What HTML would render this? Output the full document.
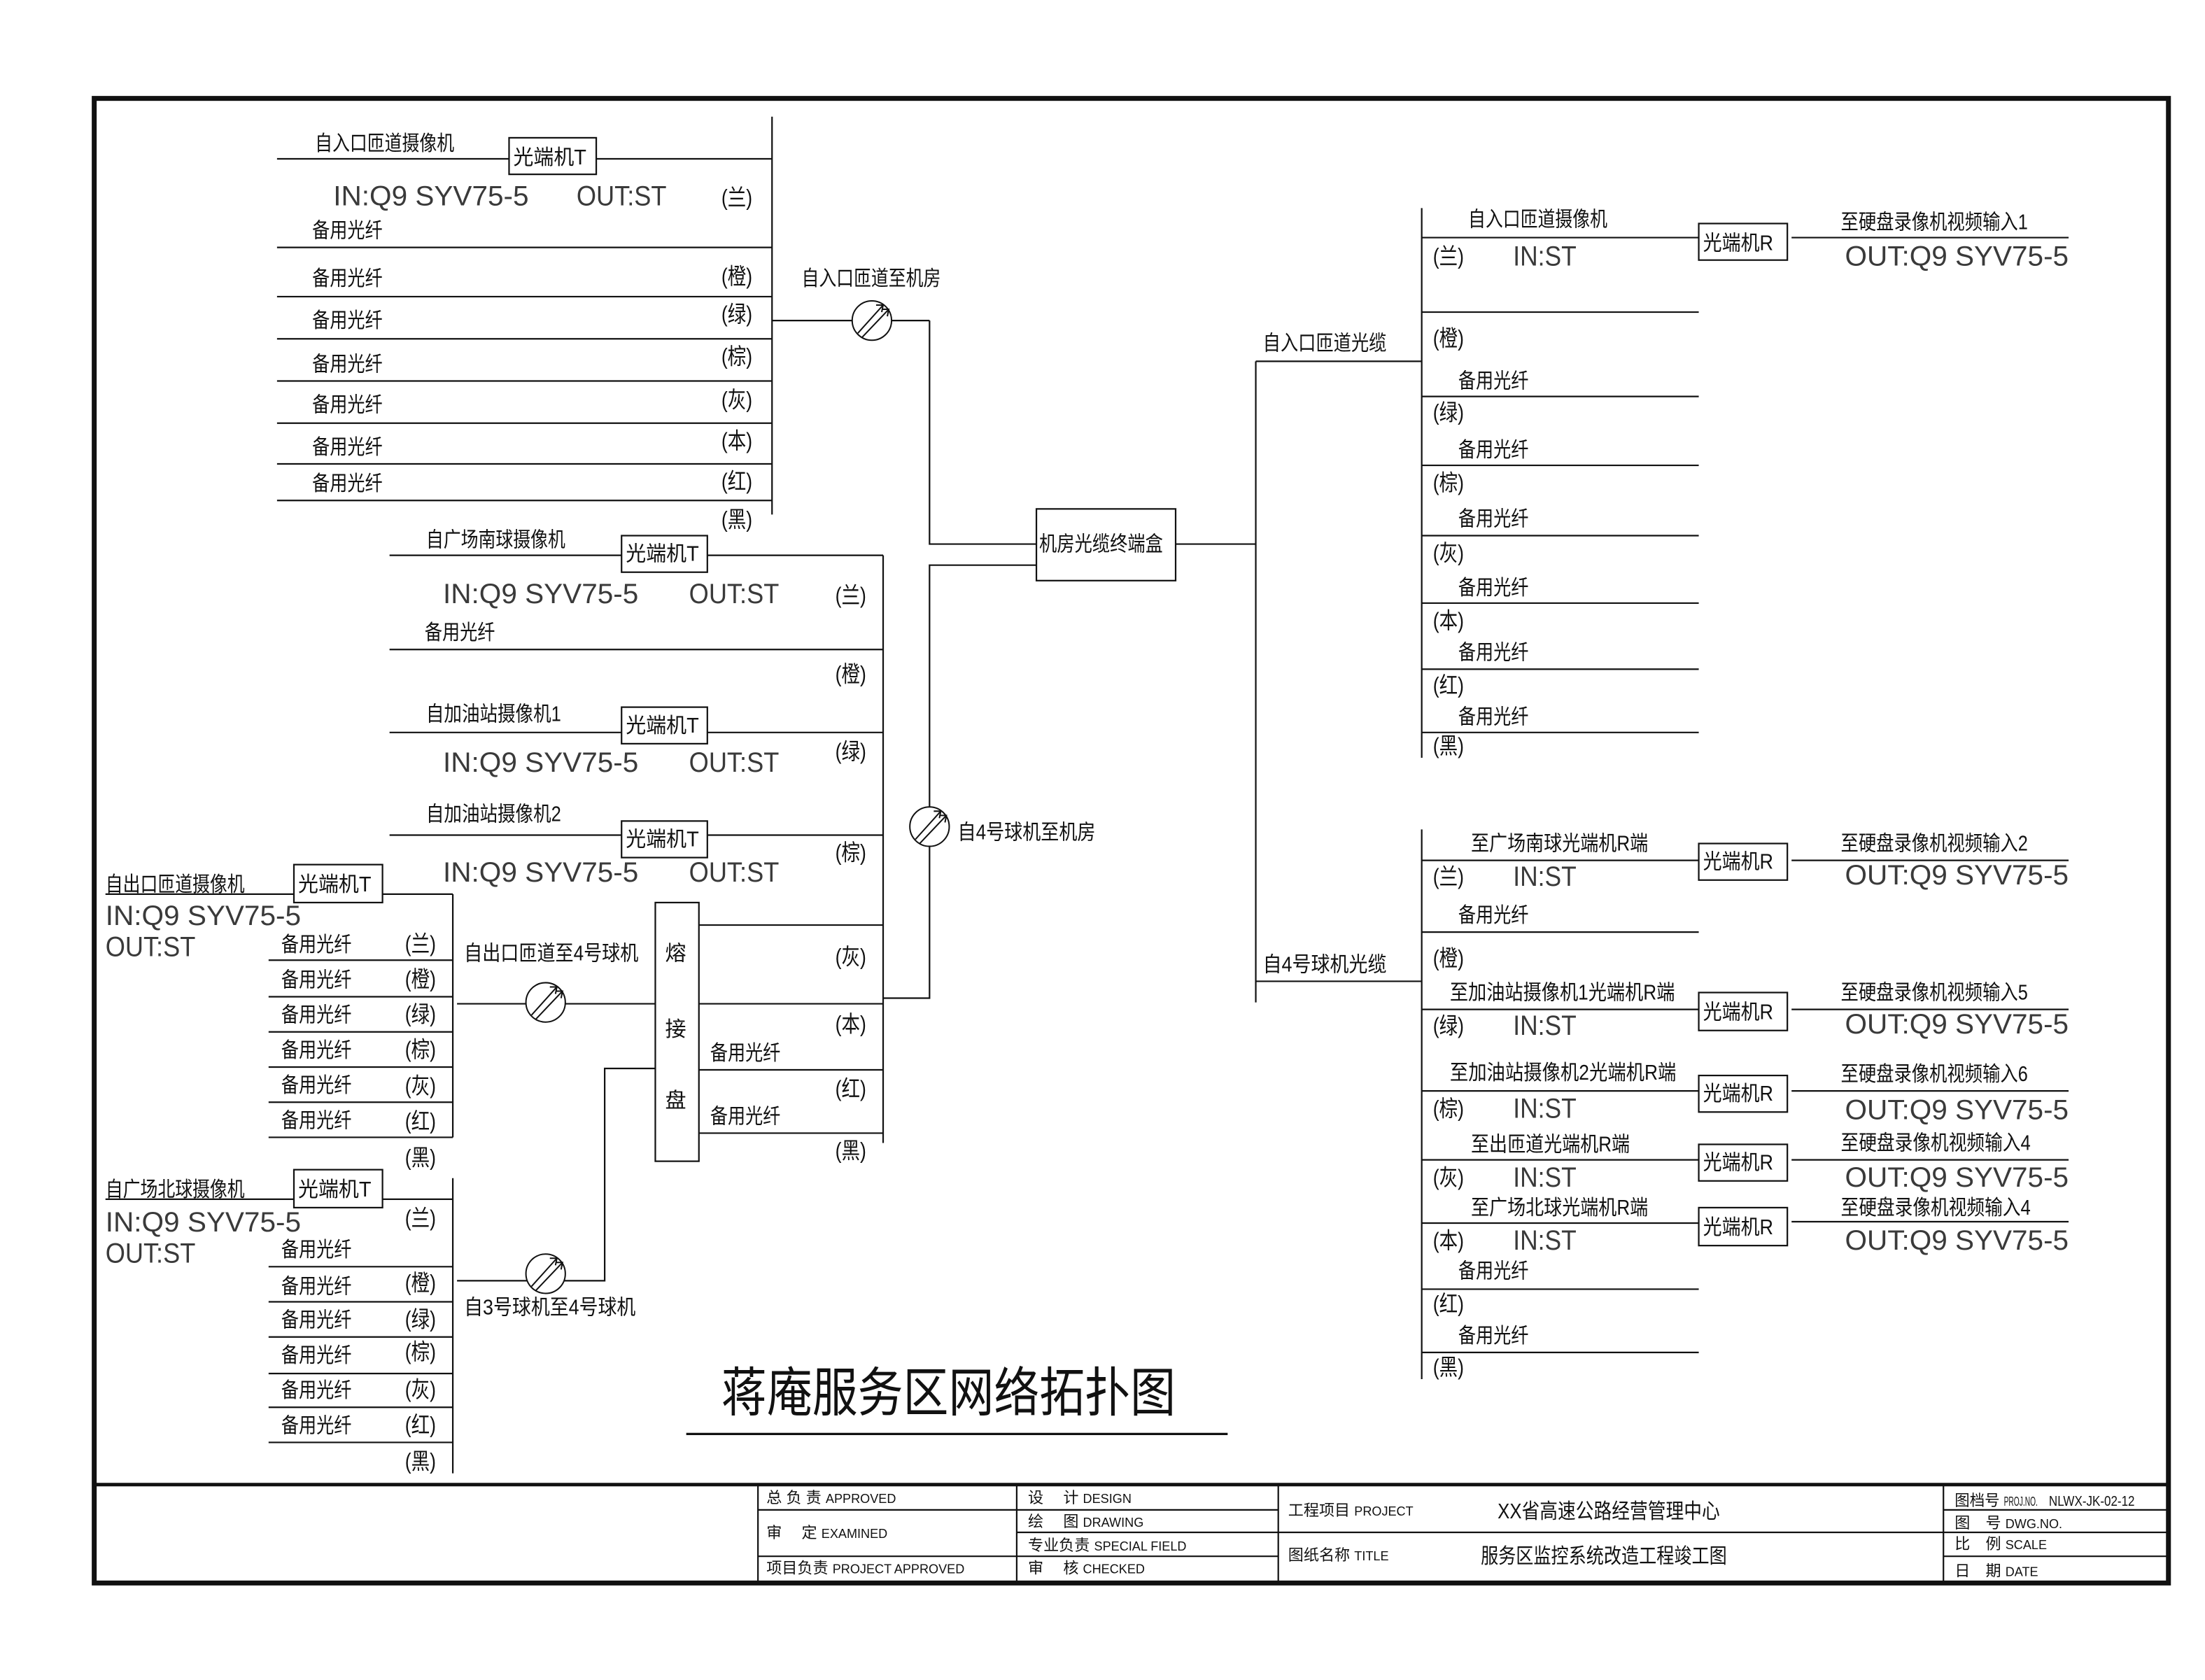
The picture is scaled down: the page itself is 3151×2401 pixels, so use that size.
<!DOCTYPE html>
<html><head><meta charset="utf-8"><style>
html,body{margin:0;padding:0;background:#fff;}
svg{display:block;}
text{font-family:"Liberation Sans","Noto Sans CJK SC",sans-serif;fill:#111;}
.c{font-size:15px;}
.p{font-size:16px;}
.l{font-size:20px;font-weight:normal;fill:#3a3a3a;}
.s{font-size:9px;}
.tb{font-size:11px;}
</style></head><body>
<svg width="3151" height="2401" viewBox="0 0 1568 1195" preserveAspectRatio="none" xmlns="http://www.w3.org/2000/svg">
<defs>
<g id="cab" fill="none" stroke="#111" stroke-width="1">
<ellipse cx="0" cy="0" rx="14" ry="14" fill="#fff"/>
<line x1="-10" y1="9" x2="8" y2="-11"/>
<line x1="-7" y1="12" x2="12" y2="-8"/>
<polyline points="3,-11 8,-11 7,-6"/>
<polyline points="7,-8 12,-8 11,-3"/>
</g>
</defs>
<g stroke="#111" stroke-width="1.1" fill="none">
<rect x="67" y="70" width="1475" height="1056" stroke-width="3.5"/>
<line x1="67" y1="1056" x2="1542" y2="1056" stroke-width="2.5"/>
<line x1="549" y1="83" x2="549" y2="366"/>
<line x1="197" y1="113" x2="362" y2="113"/><rect x="362" y="98" width="62" height="26"/><line x1="424" y1="113" x2="549" y2="113"/>
<line x1="197" y1="176" x2="549" y2="176"/>
<line x1="197" y1="211" x2="549" y2="211"/>
<line x1="197" y1="241" x2="549" y2="241"/>
<line x1="197" y1="271" x2="549" y2="271"/>
<line x1="197" y1="301" x2="549" y2="301"/>
<line x1="197" y1="330" x2="549" y2="330"/>
<line x1="197" y1="356" x2="549" y2="356"/>
<line x1="549" y1="228" x2="661" y2="228"/>
<polyline points="661,228 661,387 737,387"/>
<polyline points="661,575 661,402 737,402"/>
<rect x="737" y="362" width="99" height="51"/>
<line x1="836" y1="387" x2="893" y2="387"/>
<line x1="628" y1="395" x2="628" y2="813"/>
<line x1="277" y1="395" x2="442" y2="395"/><rect x="442" y="381" width="61" height="26"/><line x1="503" y1="395" x2="628" y2="395"/>
<line x1="277" y1="462" x2="628" y2="462"/>
<line x1="277" y1="521" x2="442" y2="521"/><rect x="442" y="503" width="61" height="26"/><line x1="503" y1="521" x2="628" y2="521"/>
<line x1="277" y1="594" x2="442" y2="594"/><rect x="442" y="584" width="61" height="26"/><line x1="503" y1="594" x2="628" y2="594"/>
<rect x="466" y="642" width="31" height="184"/>
<line x1="497" y1="658" x2="628" y2="658"/>
<line x1="497" y1="714" x2="628" y2="714"/>
<line x1="497" y1="761" x2="628" y2="761"/>
<line x1="497" y1="806" x2="628" y2="806"/>
<polyline points="628,710 661,710 661,602"/>
<line x1="75" y1="636" x2="209" y2="636"/><rect x="209" y="615" width="63" height="27"/><line x1="272" y1="636" x2="322" y2="636"/>
<line x1="322" y1="636" x2="322" y2="809"/>
<line x1="191" y1="683" x2="322" y2="683"/>
<line x1="191" y1="709" x2="322" y2="709"/>
<line x1="191" y1="734" x2="322" y2="734"/>
<line x1="191" y1="759" x2="322" y2="759"/>
<line x1="191" y1="784" x2="322" y2="784"/>
<line x1="191" y1="809" x2="322" y2="809"/>
<line x1="325" y1="714" x2="466" y2="714"/>
<line x1="75" y1="853" x2="209" y2="853"/><rect x="209" y="832" width="63" height="27"/><line x1="272" y1="853" x2="322" y2="853"/>
<line x1="322" y1="838" x2="322" y2="1048"/>
<line x1="191" y1="901" x2="322" y2="901"/>
<line x1="191" y1="926" x2="322" y2="926"/>
<line x1="191" y1="951" x2="322" y2="951"/>
<line x1="191" y1="977" x2="322" y2="977"/>
<line x1="191" y1="1001" x2="322" y2="1001"/>
<line x1="191" y1="1026" x2="322" y2="1026"/>
<polyline points="325,911 430,911 430,760 466,760"/>
<line x1="488" y1="1020" x2="873" y2="1020" stroke-width="1.6"/>
<line x1="893" y1="257" x2="893" y2="713"/>
<line x1="893" y1="257" x2="1011" y2="257"/>
<line x1="893" y1="698" x2="1011" y2="698"/>
<line x1="1011" y1="148" x2="1011" y2="539"/>
<line x1="1011" y1="169" x2="1208" y2="169"/><rect x="1208" y="159" width="63" height="26"/><line x1="1274" y1="169" x2="1471" y2="169"/>
<line x1="1011" y1="222" x2="1208" y2="222"/>
<line x1="1011" y1="282" x2="1208" y2="282"/>
<line x1="1011" y1="331" x2="1208" y2="331"/>
<line x1="1011" y1="381" x2="1208" y2="381"/>
<line x1="1011" y1="429" x2="1208" y2="429"/>
<line x1="1011" y1="476" x2="1208" y2="476"/>
<line x1="1011" y1="521" x2="1208" y2="521"/>
<line x1="1011" y1="590" x2="1011" y2="981"/>
<line x1="1011" y1="612" x2="1208" y2="612"/><rect x="1208" y="600" width="63" height="26"/><line x1="1274" y1="612" x2="1471" y2="612"/>
<line x1="1011" y1="663" x2="1208" y2="663"/>
<line x1="1011" y1="718" x2="1208" y2="718"/><rect x="1208" y="706" width="63" height="27"/><line x1="1274" y1="718" x2="1471" y2="718"/>
<line x1="1011" y1="776" x2="1208" y2="776"/><rect x="1208" y="765" width="63" height="26"/><line x1="1274" y1="776" x2="1471" y2="776"/>
<line x1="1011" y1="825" x2="1208" y2="825"/><rect x="1208" y="814" width="63" height="26"/><line x1="1274" y1="825" x2="1471" y2="825"/>
<line x1="1011" y1="870" x2="1208" y2="870"/><rect x="1208" y="859" width="63" height="27"/><line x1="1274" y1="869" x2="1471" y2="869"/>
<line x1="1011" y1="917" x2="1208" y2="917"/>
<line x1="1011" y1="962" x2="1208" y2="962"/>
<line x1="539" y1="1056" x2="539" y2="1126"/>
<line x1="723" y1="1056" x2="723" y2="1126"/>
<line x1="909" y1="1056" x2="909" y2="1126"/>
<line x1="1382" y1="1056" x2="1382" y2="1126"/>
<line x1="539" y1="1074" x2="909" y2="1074"/>
<line x1="539" y1="1107" x2="909" y2="1107"/>
<line x1="723" y1="1090" x2="1542" y2="1090"/>
<line x1="1382" y1="1074" x2="1542" y2="1074"/>
<line x1="1382" y1="1107" x2="1542" y2="1107"/>
</g>
<use href="#cab" x="620" y="228"/>
<use href="#cab" x="661" y="588"/>
<use href="#cab" x="388" y="713"/>
<use href="#cab" x="388" y="906"/>

<text class="c" x="224" y="107" textLength="99" lengthAdjust="spacingAndGlyphs">自入口匝道摄像机</text>
<text class="c" x="365" y="117" textLength="52" lengthAdjust="spacingAndGlyphs">光端机T</text>
<text class="l" x="237" y="146" textLength="139" lengthAdjust="spacingAndGlyphs">IN:Q9 SYV75-5</text>
<text class="l" x="410" y="146" textLength="64" lengthAdjust="spacingAndGlyphs">OUT:ST</text>
<text class="p" x="513" y="146" textLength="22" lengthAdjust="spacingAndGlyphs">(兰)</text>
<text class="c" x="222" y="169" textLength="50" lengthAdjust="spacingAndGlyphs">备用光纤</text>
<text class="c" x="222" y="203" textLength="50" lengthAdjust="spacingAndGlyphs">备用光纤</text>
<text class="c" x="222" y="233" textLength="50" lengthAdjust="spacingAndGlyphs">备用光纤</text>
<text class="c" x="222" y="264" textLength="50" lengthAdjust="spacingAndGlyphs">备用光纤</text>
<text class="c" x="222" y="293" textLength="50" lengthAdjust="spacingAndGlyphs">备用光纤</text>
<text class="c" x="222" y="323" textLength="50" lengthAdjust="spacingAndGlyphs">备用光纤</text>
<text class="c" x="222" y="349" textLength="50" lengthAdjust="spacingAndGlyphs">备用光纤</text>
<text class="p" x="513" y="202" textLength="22" lengthAdjust="spacingAndGlyphs">(橙)</text>
<text class="p" x="513" y="229" textLength="22" lengthAdjust="spacingAndGlyphs">(绿)</text>
<text class="p" x="513" y="259" textLength="22" lengthAdjust="spacingAndGlyphs">(棕)</text>
<text class="p" x="513" y="290" textLength="22" lengthAdjust="spacingAndGlyphs">(灰)</text>
<text class="p" x="513" y="319" textLength="22" lengthAdjust="spacingAndGlyphs">(本)</text>
<text class="p" x="513" y="348" textLength="22" lengthAdjust="spacingAndGlyphs">(红)</text>
<text class="p" x="513" y="375" textLength="22" lengthAdjust="spacingAndGlyphs">(黑)</text>
<text class="c" x="570" y="203" textLength="99" lengthAdjust="spacingAndGlyphs">自入口匝道至机房</text>
<text class="c" x="739" y="392" textLength="88" lengthAdjust="spacingAndGlyphs">机房光缆终端盒</text>

<text class="c" x="303" y="389" textLength="99" lengthAdjust="spacingAndGlyphs">自广场南球摄像机</text>
<text class="c" x="445" y="399" textLength="52" lengthAdjust="spacingAndGlyphs">光端机T</text>
<text class="l" x="315" y="429" textLength="139" lengthAdjust="spacingAndGlyphs">IN:Q9 SYV75-5</text>
<text class="l" x="490" y="429" textLength="64" lengthAdjust="spacingAndGlyphs">OUT:ST</text>
<text class="p" x="594" y="429" textLength="22" lengthAdjust="spacingAndGlyphs">(兰)</text>
<text class="c" x="302" y="455" textLength="50" lengthAdjust="spacingAndGlyphs">备用光纤</text>
<text class="p" x="594" y="485" textLength="22" lengthAdjust="spacingAndGlyphs">(橙)</text>
<text class="c" x="303" y="513" textLength="96" lengthAdjust="spacingAndGlyphs">自加油站摄像机1</text>
<text class="c" x="445" y="521" textLength="52" lengthAdjust="spacingAndGlyphs">光端机T</text>
<text class="l" x="315" y="549" textLength="139" lengthAdjust="spacingAndGlyphs">IN:Q9 SYV75-5</text>
<text class="l" x="490" y="549" textLength="64" lengthAdjust="spacingAndGlyphs">OUT:ST</text>
<text class="p" x="594" y="540" textLength="22" lengthAdjust="spacingAndGlyphs">(绿)</text>
<text class="c" x="303" y="584" textLength="96" lengthAdjust="spacingAndGlyphs">自加油站摄像机2</text>
<text class="c" x="445" y="602" textLength="52" lengthAdjust="spacingAndGlyphs">光端机T</text>
<text class="l" x="315" y="627" textLength="139" lengthAdjust="spacingAndGlyphs">IN:Q9 SYV75-5</text>
<text class="l" x="490" y="627" textLength="64" lengthAdjust="spacingAndGlyphs">OUT:ST</text>
<text class="p" x="594" y="612" textLength="22" lengthAdjust="spacingAndGlyphs">(棕)</text>
<text class="p" x="594" y="686" textLength="22" lengthAdjust="spacingAndGlyphs">(灰)</text>
<text class="p" x="594" y="734" textLength="22" lengthAdjust="spacingAndGlyphs">(本)</text>
<text class="c" x="505" y="754" textLength="50" lengthAdjust="spacingAndGlyphs">备用光纤</text>
<text class="p" x="594" y="780" textLength="22" lengthAdjust="spacingAndGlyphs">(红)</text>
<text class="c" x="505" y="799" textLength="50" lengthAdjust="spacingAndGlyphs">备用光纤</text>
<text class="p" x="594" y="824" textLength="22" lengthAdjust="spacingAndGlyphs">(黑)</text>
<text class="c" x="473" y="683">熔</text>
<text class="c" x="473" y="737">接</text>
<text class="c" x="473" y="788">盘</text>
<text class="c" x="681" y="597" textLength="98" lengthAdjust="spacingAndGlyphs">自4号球机至机房</text>

<text class="c" x="75" y="634" textLength="99" lengthAdjust="spacingAndGlyphs">自出口匝道摄像机</text>
<text class="c" x="212" y="634" textLength="52" lengthAdjust="spacingAndGlyphs">光端机T</text>
<text class="l" x="75" y="658" textLength="139" lengthAdjust="spacingAndGlyphs">IN:Q9 SYV75-5</text>
<text class="l" x="75" y="680" textLength="64" lengthAdjust="spacingAndGlyphs">OUT:ST</text>
<text class="c" x="200" y="677" textLength="50" lengthAdjust="spacingAndGlyphs">备用光纤</text>
<text class="c" x="200" y="702" textLength="50" lengthAdjust="spacingAndGlyphs">备用光纤</text>
<text class="c" x="200" y="727" textLength="50" lengthAdjust="spacingAndGlyphs">备用光纤</text>
<text class="c" x="200" y="752" textLength="50" lengthAdjust="spacingAndGlyphs">备用光纤</text>
<text class="c" x="200" y="777" textLength="50" lengthAdjust="spacingAndGlyphs">备用光纤</text>
<text class="c" x="200" y="802" textLength="50" lengthAdjust="spacingAndGlyphs">备用光纤</text>
<text class="p" x="288" y="677" textLength="22" lengthAdjust="spacingAndGlyphs">(兰)</text>
<text class="p" x="288" y="702" textLength="22" lengthAdjust="spacingAndGlyphs">(橙)</text>
<text class="p" x="288" y="727" textLength="22" lengthAdjust="spacingAndGlyphs">(绿)</text>
<text class="p" x="288" y="752" textLength="22" lengthAdjust="spacingAndGlyphs">(棕)</text>
<text class="p" x="288" y="778" textLength="22" lengthAdjust="spacingAndGlyphs">(灰)</text>
<text class="p" x="288" y="803" textLength="22" lengthAdjust="spacingAndGlyphs">(红)</text>
<text class="p" x="288" y="829" textLength="22" lengthAdjust="spacingAndGlyphs">(黑)</text>
<text class="c" x="330" y="683" textLength="124" lengthAdjust="spacingAndGlyphs">自出口匝道至4号球机</text>

<text class="c" x="75" y="851" textLength="99" lengthAdjust="spacingAndGlyphs">自广场北球摄像机</text>
<text class="c" x="212" y="851" textLength="52" lengthAdjust="spacingAndGlyphs">光端机T</text>
<text class="l" x="75" y="876" textLength="139" lengthAdjust="spacingAndGlyphs">IN:Q9 SYV75-5</text>
<text class="l" x="75" y="898" textLength="64" lengthAdjust="spacingAndGlyphs">OUT:ST</text>
<text class="c" x="200" y="894" textLength="50" lengthAdjust="spacingAndGlyphs">备用光纤</text>
<text class="c" x="200" y="920" textLength="50" lengthAdjust="spacingAndGlyphs">备用光纤</text>
<text class="c" x="200" y="944" textLength="50" lengthAdjust="spacingAndGlyphs">备用光纤</text>
<text class="c" x="200" y="969" textLength="50" lengthAdjust="spacingAndGlyphs">备用光纤</text>
<text class="c" x="200" y="994" textLength="50" lengthAdjust="spacingAndGlyphs">备用光纤</text>
<text class="c" x="200" y="1019" textLength="50" lengthAdjust="spacingAndGlyphs">备用光纤</text>
<text class="p" x="288" y="872" textLength="22" lengthAdjust="spacingAndGlyphs">(兰)</text>
<text class="p" x="288" y="918" textLength="22" lengthAdjust="spacingAndGlyphs">(橙)</text>
<text class="p" x="288" y="944" textLength="22" lengthAdjust="spacingAndGlyphs">(绿)</text>
<text class="p" x="288" y="967" textLength="22" lengthAdjust="spacingAndGlyphs">(棕)</text>
<text class="p" x="288" y="994" textLength="22" lengthAdjust="spacingAndGlyphs">(灰)</text>
<text class="p" x="288" y="1019" textLength="22" lengthAdjust="spacingAndGlyphs">(红)</text>
<text class="p" x="288" y="1045" textLength="22" lengthAdjust="spacingAndGlyphs">(黑)</text>
<text class="c" x="330" y="935" textLength="122" lengthAdjust="spacingAndGlyphs">自3号球机至4号球机</text>

<text x="513" y="1004" style="font-size:38px;font-family:'Noto Sans CJK SC',sans-serif;" textLength="323" lengthAdjust="spacingAndGlyphs">蒋庵服务区网络拓扑图</text>

<text class="c" x="898" y="249" textLength="88" lengthAdjust="spacingAndGlyphs">自入口匝道光缆</text>
<text class="c" x="1044" y="161" textLength="99" lengthAdjust="spacingAndGlyphs">自入口匝道摄像机</text>
<text class="c" x="1211" y="178" textLength="50" lengthAdjust="spacingAndGlyphs">光端机R</text>
<text class="c" x="1309" y="163" textLength="133" lengthAdjust="spacingAndGlyphs">至硬盘录像机视频输入1</text>
<text class="p" x="1019" y="188" textLength="22" lengthAdjust="spacingAndGlyphs">(兰)</text>
<text class="l" x="1076" y="189" textLength="45" lengthAdjust="spacingAndGlyphs">IN:ST</text>
<text class="l" x="1312" y="189" textLength="159" lengthAdjust="spacingAndGlyphs">OUT:Q9 SYV75-5</text>
<text class="p" x="1019" y="246" textLength="22" lengthAdjust="spacingAndGlyphs">(橙)</text>
<text class="c" x="1037" y="276" textLength="50" lengthAdjust="spacingAndGlyphs">备用光纤</text>
<text class="p" x="1019" y="299" textLength="22" lengthAdjust="spacingAndGlyphs">(绿)</text>
<text class="c" x="1037" y="325" textLength="50" lengthAdjust="spacingAndGlyphs">备用光纤</text>
<text class="p" x="1019" y="349" textLength="22" lengthAdjust="spacingAndGlyphs">(棕)</text>
<text class="c" x="1037" y="374" textLength="50" lengthAdjust="spacingAndGlyphs">备用光纤</text>
<text class="p" x="1019" y="399" textLength="22" lengthAdjust="spacingAndGlyphs">(灰)</text>
<text class="c" x="1037" y="423" textLength="50" lengthAdjust="spacingAndGlyphs">备用光纤</text>
<text class="p" x="1019" y="447" textLength="22" lengthAdjust="spacingAndGlyphs">(本)</text>
<text class="c" x="1037" y="469" textLength="50" lengthAdjust="spacingAndGlyphs">备用光纤</text>
<text class="p" x="1019" y="493" textLength="22" lengthAdjust="spacingAndGlyphs">(红)</text>
<text class="c" x="1037" y="515" textLength="50" lengthAdjust="spacingAndGlyphs">备用光纤</text>
<text class="p" x="1019" y="536" textLength="22" lengthAdjust="spacingAndGlyphs">(黑)</text>

<text class="c" x="898" y="691" textLength="88" lengthAdjust="spacingAndGlyphs">自4号球机光缆</text>
<text class="c" x="1046" y="605" textLength="126" lengthAdjust="spacingAndGlyphs">至广场南球光端机R端</text>
<text class="c" x="1211" y="618" textLength="50" lengthAdjust="spacingAndGlyphs">光端机R</text>
<text class="c" x="1309" y="605" textLength="133" lengthAdjust="spacingAndGlyphs">至硬盘录像机视频输入2</text>
<text class="p" x="1019" y="629" textLength="22" lengthAdjust="spacingAndGlyphs">(兰)</text>
<text class="l" x="1076" y="630" textLength="45" lengthAdjust="spacingAndGlyphs">IN:ST</text>
<text class="l" x="1312" y="629" textLength="159" lengthAdjust="spacingAndGlyphs">OUT:Q9 SYV75-5</text>
<text class="c" x="1037" y="656" textLength="50" lengthAdjust="spacingAndGlyphs">备用光纤</text>
<text class="p" x="1019" y="687" textLength="22" lengthAdjust="spacingAndGlyphs">(橙)</text>
<text class="c" x="1031" y="711" textLength="160" lengthAdjust="spacingAndGlyphs">至加油站摄像机1光端机R端</text>
<text class="c" x="1211" y="725" textLength="50" lengthAdjust="spacingAndGlyphs">光端机R</text>
<text class="c" x="1309" y="711" textLength="133" lengthAdjust="spacingAndGlyphs">至硬盘录像机视频输入5</text>
<text class="p" x="1019" y="735" textLength="22" lengthAdjust="spacingAndGlyphs">(绿)</text>
<text class="l" x="1076" y="736" textLength="45" lengthAdjust="spacingAndGlyphs">IN:ST</text>
<text class="l" x="1312" y="735" textLength="159" lengthAdjust="spacingAndGlyphs">OUT:Q9 SYV75-5</text>
<text class="c" x="1031" y="768" textLength="161" lengthAdjust="spacingAndGlyphs">至加油站摄像机2光端机R端</text>
<text class="c" x="1211" y="783" textLength="50" lengthAdjust="spacingAndGlyphs">光端机R</text>
<text class="c" x="1309" y="769" textLength="133" lengthAdjust="spacingAndGlyphs">至硬盘录像机视频输入6</text>
<text class="p" x="1019" y="794" textLength="22" lengthAdjust="spacingAndGlyphs">(棕)</text>
<text class="l" x="1076" y="795" textLength="45" lengthAdjust="spacingAndGlyphs">IN:ST</text>
<text class="l" x="1312" y="796" textLength="159" lengthAdjust="spacingAndGlyphs">OUT:Q9 SYV75-5</text>
<text class="c" x="1046" y="819" textLength="113" lengthAdjust="spacingAndGlyphs">至出匝道光端机R端</text>
<text class="c" x="1211" y="832" textLength="50" lengthAdjust="spacingAndGlyphs">光端机R</text>
<text class="c" x="1309" y="818" textLength="135" lengthAdjust="spacingAndGlyphs">至硬盘录像机视频输入4</text>
<text class="p" x="1019" y="843" textLength="22" lengthAdjust="spacingAndGlyphs">(灰)</text>
<text class="l" x="1076" y="844" textLength="45" lengthAdjust="spacingAndGlyphs">IN:ST</text>
<text class="l" x="1312" y="844" textLength="159" lengthAdjust="spacingAndGlyphs">OUT:Q9 SYV75-5</text>
<text class="c" x="1046" y="864" textLength="126" lengthAdjust="spacingAndGlyphs">至广场北球光端机R端</text>
<text class="c" x="1211" y="878" textLength="50" lengthAdjust="spacingAndGlyphs">光端机R</text>
<text class="c" x="1309" y="864" textLength="135" lengthAdjust="spacingAndGlyphs">至硬盘录像机视频输入4</text>
<text class="p" x="1019" y="888" textLength="22" lengthAdjust="spacingAndGlyphs">(本)</text>
<text class="l" x="1076" y="889" textLength="45" lengthAdjust="spacingAndGlyphs">IN:ST</text>
<text class="l" x="1312" y="889" textLength="159" lengthAdjust="spacingAndGlyphs">OUT:Q9 SYV75-5</text>
<text class="c" x="1037" y="909" textLength="50" lengthAdjust="spacingAndGlyphs">备用光纤</text>
<text class="p" x="1019" y="933" textLength="22" lengthAdjust="spacingAndGlyphs">(红)</text>
<text class="c" x="1037" y="955" textLength="50" lengthAdjust="spacingAndGlyphs">备用光纤</text>
<text class="p" x="1019" y="978" textLength="22" lengthAdjust="spacingAndGlyphs">(黑)</text>

<text class="tb" x="545" y="1069">总 负 责 <tspan class="s">APPROVED</tspan></text>
<text class="tb" x="545" y="1094">审　 定 <tspan class="s">EXAMINED</tspan></text>
<text class="tb" x="545" y="1119">项目负责 <tspan class="s">PROJECT APPROVED</tspan></text>
<text class="tb" x="731" y="1069">设　 计 <tspan class="s">DESIGN</tspan></text>
<text class="tb" x="731" y="1086">绘　 图 <tspan class="s">DRAWING</tspan></text>
<text class="tb" x="731" y="1103">专业负责 <tspan class="s">SPECIAL FIELD</tspan></text>
<text class="tb" x="731" y="1119">审　 核 <tspan class="s">CHECKED</tspan></text>
<text class="tb" x="916" y="1078">工程项目 <tspan class="s">PROJECT</tspan></text>
<text class="tb" x="916" y="1110">图纸名称 <tspan class="s">TITLE</tspan></text>
<text x="1065" y="1080" style="font-size:15px" textLength="158" lengthAdjust="spacingAndGlyphs">XX省高速公路经营管理中心</text>
<text x="1053" y="1112" style="font-size:15px" textLength="175" lengthAdjust="spacingAndGlyphs">服务区监控系统改造工程竣工图</text>
<text class="tb" x="1390" y="1071" textLength="32" lengthAdjust="spacingAndGlyphs">图档号</text>
<text class="s" x="1425" y="1071" textLength="24" lengthAdjust="spacingAndGlyphs">PROJ.NO.</text>
<text x="1457" y="1071" style="font-size:10px" textLength="61" lengthAdjust="spacingAndGlyphs">NLWX-JK-02-12</text>
<text class="tb" x="1390" y="1087">图　号 <tspan class="s">DWG.NO.</tspan></text>
<text class="tb" x="1390" y="1102">比　例 <tspan class="s">SCALE</tspan></text>
<text class="tb" x="1390" y="1121">日　期 <tspan class="s">DATE</tspan></text>
</svg>
</body></html>
